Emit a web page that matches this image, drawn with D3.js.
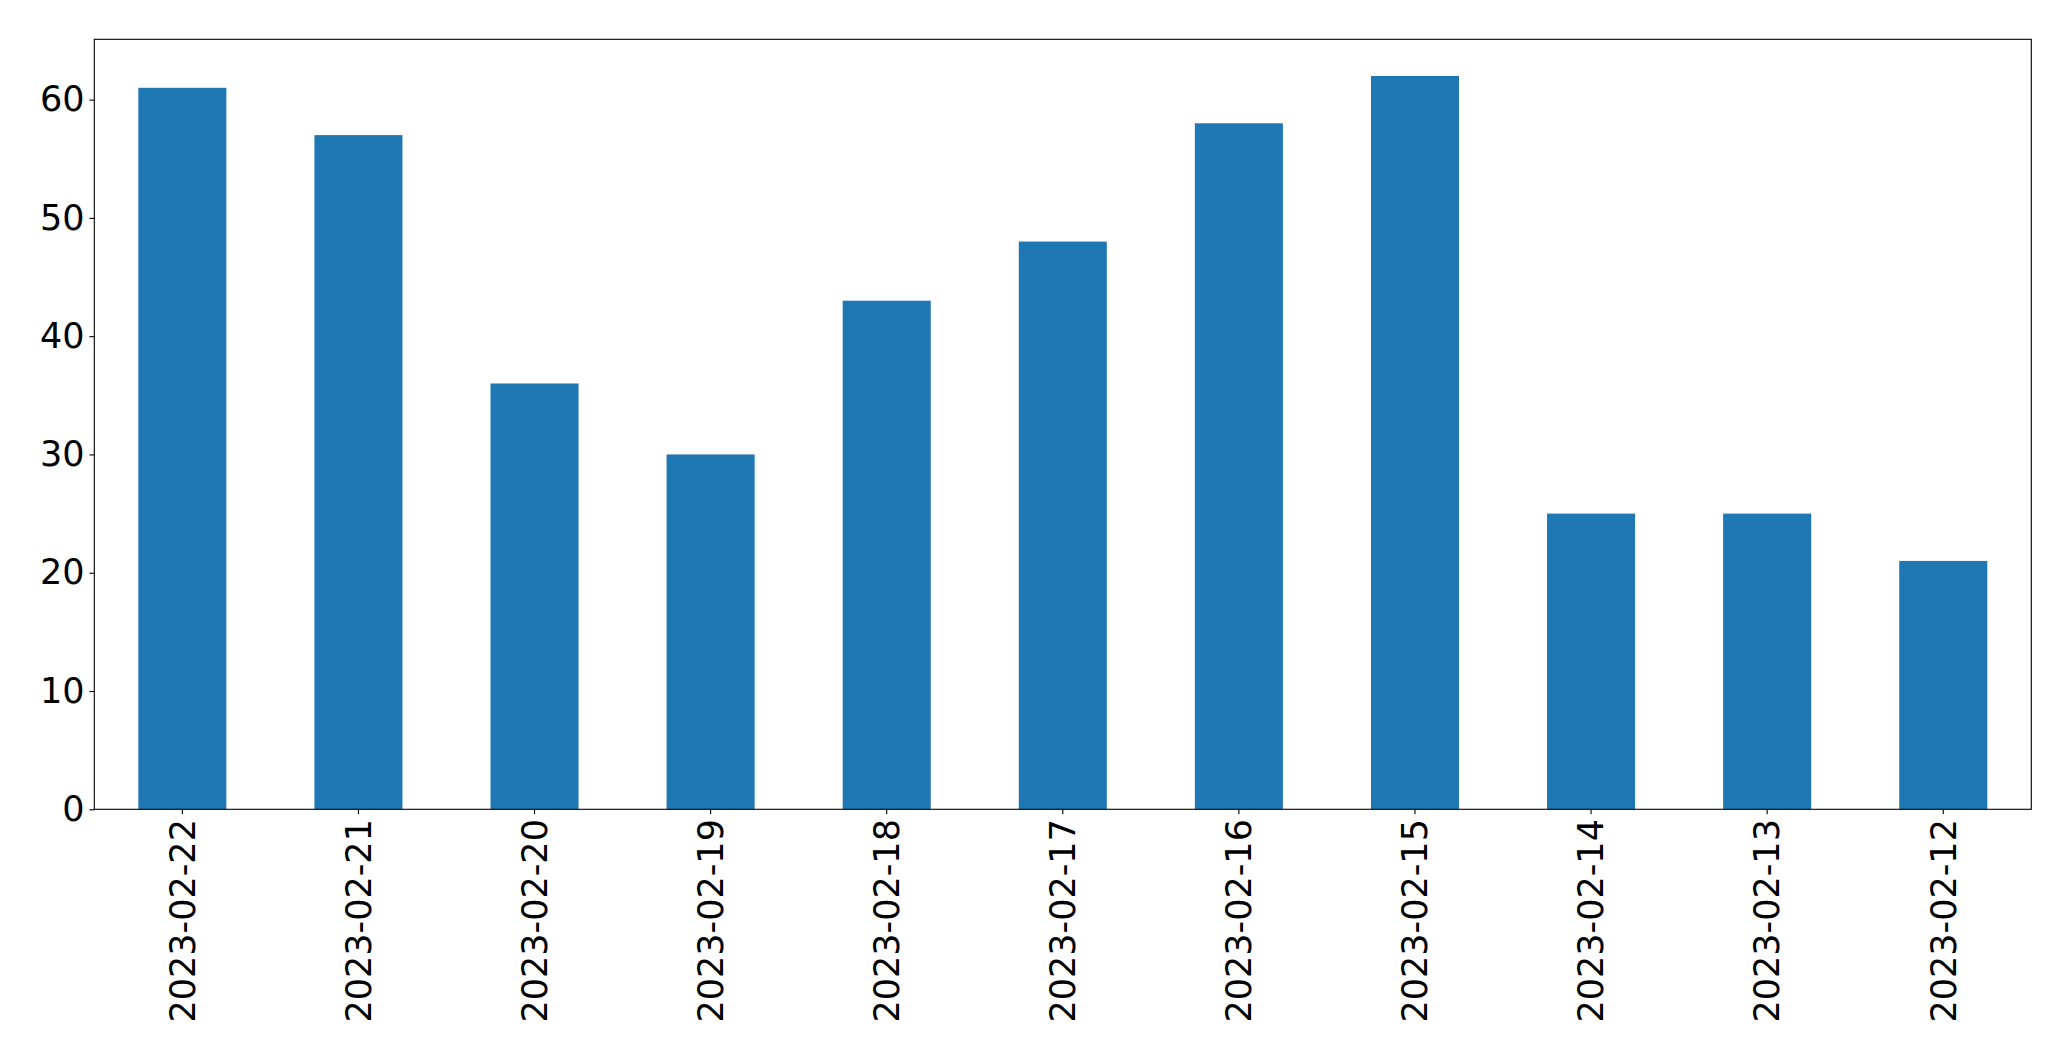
<!DOCTYPE html>
<html>
<head>
<meta charset="utf-8">
<script src="https://cdn.jsdelivr.net/npm/d3@7"></script>
<style>
  body { margin: 0; background: #fff; }
  text { font-family: "DejaVu Sans", sans-serif; }
</style>
</head>
<body>
<svg id="chart"></svg>
<script>
// data
const dates = ["2023-02-22", "2023-02-21", "2023-02-20", "2023-02-19", "2023-02-18",
  "2023-02-17", "2023-02-16", "2023-02-15", "2023-02-14", "2023-02-13", "2023-02-12"];
const counts = [61, 57, 36, 30, 43, 48, 58, 62, 25, 25, 21];
const yTicks = [0, 10, 20, 30, 40, 50, 60];

const width = 2071, height = 1061;
const margin = { left: 94.3, right: 2071 - 2031.3, top: 39.3, bottom: 1061 - 809.3 };
const tickLen = 4.9, pad = 4.9, fontSize = 35;

const svg = d3.select("#chart")
  .attr("width", width)
  .attr("height", height);

const x = d3.scaleBand()
  .domain(dates)
  .range([margin.left, width - margin.right])
  .paddingInner(0.5)
  .paddingOuter(0.25);

const y = d3.scaleLinear()
  .domain([0, d3.max(counts) * 1.05])
  .range([height - margin.bottom, margin.top]);

// bars
svg.append("g")
  .selectAll("rect")
  .data(counts)
  .join("rect")
  .attr("x", (d, i) => x(dates[i]))
  .attr("y", d => y(d))
  .attr("width", x.bandwidth())
  .attr("height", d => y(0) - y(d))
  .attr("fill", "#1f77b4");

// y axis
const yAxis = svg.append("g")
  .attr("transform", `translate(${margin.left},0)`)
  .call(d3.axisLeft(y).tickValues(yTicks).tickSize(tickLen).tickPadding(pad));
yAxis.select(".domain").remove();
yAxis.selectAll("text").attr("font-size", fontSize).attr("fill", "#000")
  .attr("font-family", "DejaVu Sans");
yAxis.selectAll("line").attr("stroke", "#000").attr("stroke-width", 1.1);

// x axis
const xAxis = svg.append("g")
  .attr("transform", `translate(0,${height - margin.bottom})`)
  .call(d3.axisBottom(x).tickSize(tickLen).tickPadding(pad));
xAxis.select(".domain").remove();
xAxis.selectAll("line").attr("stroke", "#000").attr("stroke-width", 1.1);
xAxis.selectAll("text")
  .attr("font-size", fontSize)
  .attr("font-family", "DejaVu Sans")
  .attr("fill", "#000")
  .attr("transform", "rotate(-90)")
  .attr("text-anchor", "end")
  .attr("x", -(tickLen + pad))
  .attr("y", 0)
  .attr("dy", "0.35em");

// frame
svg.append("rect")
  .attr("x", margin.left)
  .attr("y", margin.top)
  .attr("width", width - margin.left - margin.right)
  .attr("height", height - margin.top - margin.bottom)
  .attr("fill", "none")
  .attr("stroke", "#000")
  .attr("stroke-width", 1.1);
</script>
</body>
</html>
